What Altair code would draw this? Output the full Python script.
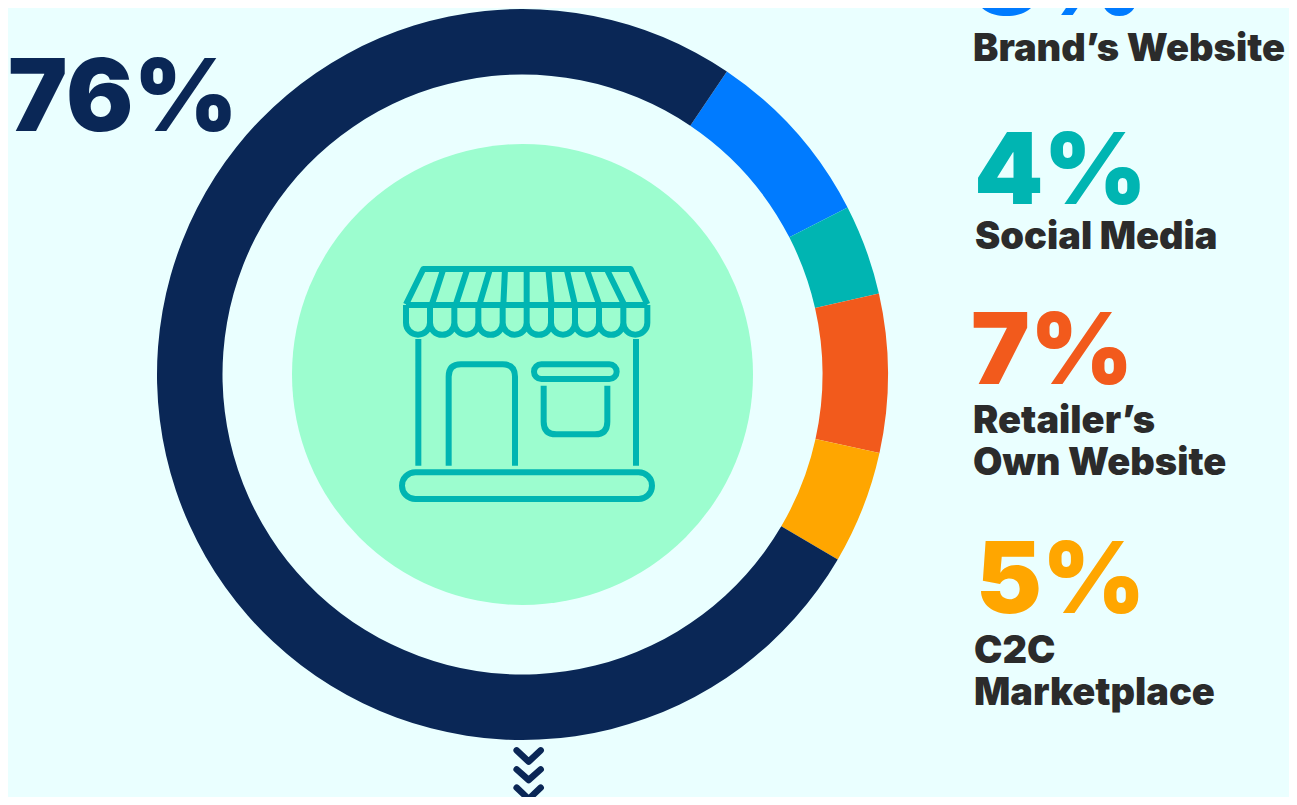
import math
import altair as alt
import pandas as pd

CATEGORIES = ["Brand’s Website", "Social Media", "Retailer’s Own Website", "C2C Marketplace", "Store"]
SHARES = [8, 4, 7, 5, 76]
COLOURS = ["#007BFF", "#00B5B2", "#F25A1C", "#FFA600", "#0A2756"]
BG = "#EAFFFF"
MINT = "#9CFDCF"
INK = "#2B2B2B"
FONT = "Inter"

W, H = 1281, 789
OX, OY = 8, 8          # page margin
CX, CY = 522.5 - OX, 374.5 - OY

START = math.radians(34)
donut = pd.DataFrame({"name": CATEGORIES, "share": SHARES, "rank": range(5)})

ring = alt.Chart(donut).mark_arc(outerRadius=365.5, innerRadius=300).encode(
    theta=alt.Theta("share:Q", stack=True,
                    scale=alt.Scale(domain=[0, 100], range=[START, START + 2 * math.pi])),
    color=alt.Color("name:N", scale=alt.Scale(domain=CATEGORIES, range=COLOURS), legend=None),
    order=alt.Order("rank:Q"),
    x=alt.value(CX), y=alt.value(CY),
)

one = pd.DataFrame({"k": [0]})
disc = alt.Chart(one).mark_circle(color=MINT, opacity=1, size=(2 * 230.5) ** 2).encode(
    x=alt.value(CX), y=alt.value(CY))


def scallops():
    xs = [48, 120, 193, 265, 338, 410, 483, 555, 627, 700, 772]
    s = "M48 150"
    for a, b in zip(xs, xs[1:]):
        r = (b - a) / 2
        s += f" M{a} 150 V203 A{r} {r} 0 0 0 {b} 203 V150"
    return s


ribs = [(160, 125), (232, 197), (300, 268), (345, 340), (410, 410),
        (475, 485), (530, 555), (590, 628), (650, 703)]
ICON = " ".join([
    "M48 148 L100 42 H722 L772 148 M48 150 H772",
    " ".join(f"M{a} 42 L{b} 150" for a, b in ribs),
    scallops(),
    "M85 252 V632 M738 252 V632",
    "M176 632 V365 Q176 328 213 328 H338 Q375 328 375 365 V632",
    "M454 328 H658 A22 22 0 0 1 658 372 H454 A22 22 0 0 1 454 328 Z",
    "M461 392 V500 Q461 538 499 538 H615 Q652 538 652 500 V392",
    "M76 652 H746 A40 40 0 0 1 746 732 H76 A40 40 0 0 1 76 652 Z",
])
CHEV = "M80 46 L116 80 L152 46 M80 103 L116 135 L152 103 M80 158 L116 192 L152 158"


def glyph(path, colour, px, py, sw, cap):
    return alt.Chart(one).mark_point(shape=path, filled=False, opacity=1, stroke=colour,
                                     strokeWidth=sw, strokeCap=cap, strokeJoin="round").encode(
        x=alt.value(px - OX), y=alt.value(py - OY), size=alt.value(4 / 9))


def text(t, px, py, size, colour, weight):
    return alt.Chart(pd.DataFrame({"t": [t]})).mark_text(
        align="left", baseline="alphabetic", font=FONT, fontSize=size, fontWeight=weight, color=colour
    ).encode(text="t:N", x=alt.value(px - OX), y=alt.value(py - OY))


layers = [
    ring, disc,
    glyph(ICON, COLOURS[1], 390, 255, 6, "butt"),
    glyph(CHEV, COLOURS[4], 490, 735, 6.5, "round"),
    text("76%", 8, 131, 100, COLOURS[4], 900),
    text("8%", 973, 15, 99, COLOURS[0], 900),
    text("4%", 974, 204, 99, COLOURS[1], 900),
    text("7%", 971, 384, 99, COLOURS[2], 900),
    text("5%", 976, 613, 99, COLOURS[3], 900),
    text("Brand’s Website", 973, 61, 38, INK, 900),
    text("Social Media", 975, 249, 38, INK, 900),
    text("Retailer’s", 973, 433, 38, INK, 900),
    text("Own Website", 973, 475, 38, INK, 900),
    text("C2C", 974, 663, 38, INK, 900),
    text("Marketplace", 974, 705, 38, INK, 900),
]

chart = alt.layer(*layers).properties(
    width=W, height=H, padding=0, background=BG,
    autosize=alt.AutoSizeParams(type="none"),
).configure_view(stroke=None)

chart.save("out.html", embed_options={"renderer": "svg", "actions": False})
